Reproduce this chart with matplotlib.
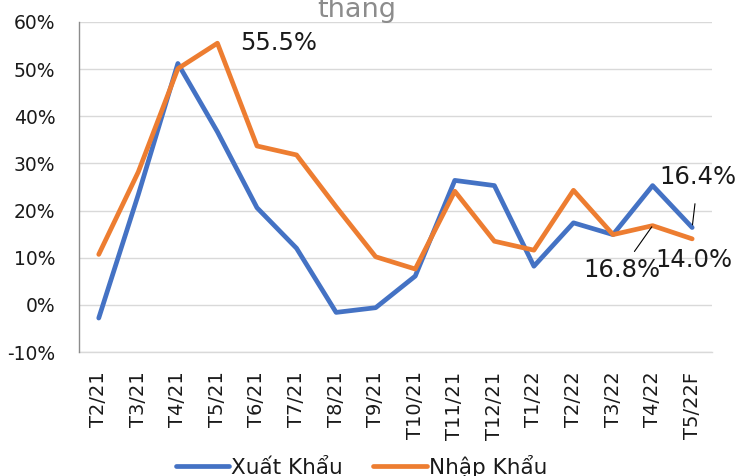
import matplotlib
matplotlib.use("Agg")
import matplotlib.pyplot as plt
from matplotlib.ticker import FuncFormatter

# -----------------------------
# DATA
# -----------------------------
months = ["T2/21", "T3/21", "T4/21", "T5/21", "T6/21", "T7/21", "T8/21", "T9/21",
          "T10/21", "T11/21", "T12/21", "T1/22", "T2/22", "T3/22", "T4/22", "T5/22F"]
xuat_khau = [-2.8, 23.4, 51.2, 36.7, 20.6, 12.0, -1.6, -0.6,
             6.1, 26.4, 25.3, 8.2, 17.4, 14.9, 25.3, 16.4]
nhap_khau = [10.7, 28.2, 50.1, 55.5, 33.7, 31.8, 20.8, 10.2,
             7.6, 24.1, 13.5, 11.6, 24.3, 14.9, 16.8, 14.0]
y_ticks = [-10, 0, 10, 20, 30, 40, 50, 60]

BLUE = "#4472C4"
ORANGE = "#ED7D31"
GRID = "#d9d9d9"

plt.rcParams["font.family"] = ["DejaVu Sans"]

fig = plt.figure(figsize=(7.38, 4.76), dpi=100)
ax = fig.add_axes([0.1070, 0.2605, 0.8577, 0.6933])

x = list(range(len(months)))
ax.plot(x, xuat_khau, color=BLUE, lw=3.4, solid_joinstyle="round",
        solid_capstyle="round", label="Xuất Khẩu", zorder=3)
ax.plot(x, nhap_khau, color=ORANGE, lw=3.4, solid_joinstyle="round",
        solid_capstyle="round", label="Nhập Khẩu", zorder=3)

ax.set_xlim(-0.5, len(months) - 0.5)
ax.set_ylim(-10, 60)
ax.set_yticks(y_ticks)
ax.yaxis.set_major_formatter(FuncFormatter(lambda v, p: f"{v:.0f}%"))
ax.set_xticks(x)
ax.set_xticklabels(months, rotation=90)

ax.grid(axis="y", color=GRID, lw=1.0, zorder=0)
ax.set_axisbelow(True)
for s in ["top", "right"]:
    ax.spines[s].set_visible(False)
# bottom gridline (-10%) drawn as the bottom spine
ax.spines["bottom"].set_color(GRID)
ax.spines["bottom"].set_linewidth(1.0)
ax.spines["left"].set_color("#8c8c8c")
ax.spines["left"].set_linewidth(1.0)
ax.spines["left"].set_zorder(4)

ax.tick_params(axis="y", length=0, pad=17, labelsize=13.5, labelcolor="#1a1a1a")
ax.tick_params(axis="x", length=0, pad=14, labelsize=14, labelcolor="#1a1a1a")

# -----------------------------
# ANNOTATIONS
# -----------------------------
ann_kw = dict(textcoords="offset pixels", ha="center", va="center",
              fontsize=17.5, color="#1a1a1a", zorder=5)
line_kw = dict(arrowstyle="-", color="black", lw=0.8)

ax.annotate(f"{nhap_khau[3]:.1f}%", xy=(3, nhap_khau[3]), xytext=(61, 0), **ann_kw)
ax.annotate(f"{xuat_khau[15]:.1f}%", xy=(15, xuat_khau[15]), xytext=(6, 51),
            arrowprops=dict(shrinkA=9, shrinkB=2, **line_kw), **ann_kw)
ax.annotate(f"{nhap_khau[14]:.1f}%", xy=(14, nhap_khau[14]), xytext=(-31, -44),
            arrowprops=dict(shrinkA=3, shrinkB=1, **line_kw), **ann_kw)
ax.annotate(f"{nhap_khau[15]:.1f}%", xy=(15, nhap_khau[15]), xytext=(2, -21), **ann_kw)

# title is cut off at the top of the picture, as in the reference
fig.text(0.484, 0.964, "thang", ha="center", va="baseline",
         fontsize=19.5, color="#8c8c8c")

fig.legend(loc="center", bbox_to_anchor=(0.49, 0.021), ncol=2, frameon=False,
           fontsize=15.5, handlelength=2.5, handletextpad=0.1, columnspacing=1.4,
           borderpad=0, labelcolor="#1a1a1a")

fig.savefig("out.png", dpi=100)
